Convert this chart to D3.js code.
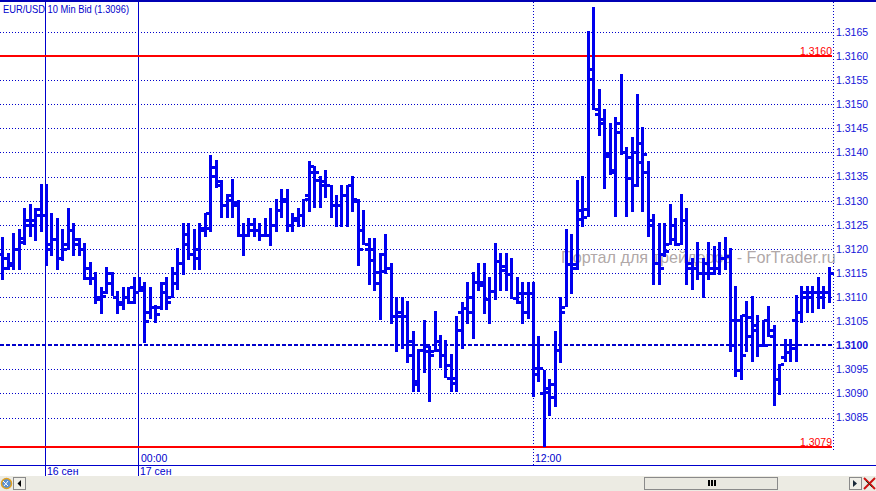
<!DOCTYPE html>
<html><head><meta charset="utf-8">
<script src="https://cdnjs.cloudflare.com/ajax/libs/d3/7.8.5/d3.min.js"></script>
<style>
body{margin:0;background:#fff;overflow:hidden}
svg{display:block}
text{font-family:"Liberation Sans",Arial,sans-serif}
</style>
</head><body>
<svg id="c" width="876" height="491"></svg>
<script>
// ---------- data ----------
const title = "EUR/USD 10 Min Bid (1.3096)";
const watermark = "Портал для трейдеров - ForTrader.ru";
const openP = [1.3119,1.3118,1.3117,1.3120,1.31215,1.3125,1.3125,1.31282,1.3127,1.3121,
1.3122,1.3118,1.3121,1.3124,1.3121,1.3120,1.3116,1.3114,1.3110,1.3111,
1.3113,1.3110,1.3109,1.3110,1.3112,1.3111,1.3112,1.3107,1.3108,1.3108,
1.3111,1.3110,1.3113,1.3117,1.3123,1.3119,1.3118,1.3124,1.31274,1.31352,
1.31333,1.3129,1.31301,1.31298,1.31228,1.31228,1.3124,1.3124,1.31228,1.31228,
1.3125,1.3128,1.3130,1.3125,1.3126,1.3127,1.31312,1.3136,1.31342,1.31333,
1.31333,1.31291,1.31291,1.31312,1.31333,1.31303,1.3124,1.3120,1.31176,1.3113,
1.31153,1.31161,1.3106,1.3106,1.3106,1.3098,1.3092,1.3099,1.30989,1.30989,
1.31009,1.30979,1.30933,1.30933,1.31068,1.31078,1.3110,1.31131,1.31131,1.31095,
1.31112,1.31175,1.31156,1.31147,1.31099,1.31089,1.31068,1.31109,1.30952,1.3090,
1.30903,1.3092,1.3099,1.3108,1.31169,1.3116,1.3128,1.31283,1.31553,1.3148,
1.3147,1.31399,1.3136,1.3146,1.3140,1.31347,1.31401,1.3142,1.3136,1.3125,
1.3117,1.3119,1.3121,1.3122,1.3121,1.3126,1.3116,1.3116,1.3115,1.3117,
1.3116,1.3116,1.3118,1.31185,1.3100,1.31052,1.31062,1.3102,1.31031,1.3100,
1.31052,1.3102,1.30931,1.30975,1.30985,1.31052,1.3107,1.31111,1.31111,1.31111,
1.3110,1.3111];
const highP = [1.31224,1.31192,1.31232,1.31242,1.31284,1.31292,1.31284,1.31334,1.31334,1.31274,
1.31263,1.31242,1.31284,1.31253,1.31223,1.31213,1.31172,1.31152,1.31121,1.31163,
1.31152,1.31112,1.31121,1.31121,1.31142,1.31142,1.31131,1.31121,1.31083,1.31131,
1.31142,1.31163,1.31202,1.31253,1.31253,1.31242,1.31253,1.31274,1.31395,1.31385,
1.31343,1.31313,1.31344,1.31301,1.31253,1.31263,1.31263,1.31253,1.31263,1.31284,
1.31303,1.31324,1.31324,1.31274,1.31284,1.31303,1.31383,1.31372,1.31352,1.31363,
1.31333,1.31312,1.31333,1.31333,1.31352,1.31303,1.3128,1.31223,1.31223,1.31192,
1.31231,1.31171,1.31101,1.31101,1.31092,1.3103,1.30992,1.31052,1.30999,1.31072,
1.31021,1.3101,1.30981,1.31061,1.3109,1.31131,1.31151,1.31171,1.31171,1.31141,
1.31213,1.31192,1.31192,1.31181,1.31141,1.31131,1.31131,1.31131,1.3102,1.30949,
1.30931,1.3103,1.31101,1.31242,1.31231,1.31342,1.31352,1.31652,1.31702,1.31532,
1.31491,1.31462,1.31474,1.31563,1.31411,1.31432,1.31522,1.31453,1.31382,1.31273,
1.31253,1.31253,1.31293,1.31264,1.31314,1.31285,1.31182,1.31214,1.31182,1.31214,
1.31205,1.31214,1.31224,1.31201,1.31122,1.31063,1.31092,1.31103,1.31063,1.31052,
1.31082,1.31042,1.30962,1.31012,1.31012,1.31104,1.31122,1.31122,1.31122,1.31142,
1.31122,1.31163];
const lowP = [1.31135,1.31156,1.31156,1.31156,1.31208,1.31225,1.31216,1.31235,1.31164,1.31185,
1.31156,1.31174,1.31197,1.31185,1.31185,1.31135,1.31124,1.31086,1.31064,1.31107,
1.31103,1.31064,1.31074,1.31086,1.31086,1.3111,1.31005,1.31055,1.31047,1.31074,
1.31074,1.31097,1.31114,1.31145,1.31176,1.31156,1.31156,1.31225,1.31234,1.31326,
1.31265,1.31265,1.31265,1.31225,1.31185,1.31225,1.31225,1.31216,1.31225,1.31206,
1.31234,1.31265,1.31234,1.31234,1.31246,1.31246,1.31276,1.31285,1.31285,1.31306,
1.31265,1.31246,1.31246,1.31246,1.31276,1.31165,1.31207,1.31124,1.31113,1.31053,
1.31148,1.31045,1.30985,1.30993,1.30964,1.30903,1.30903,1.30943,1.30882,1.30985,
1.30953,1.30933,1.30903,1.30903,1.30993,1.31045,1.31014,1.31113,1.31065,1.31045,
1.31094,1.31113,1.31113,1.31096,1.31085,1.31045,1.31054,1.30893,1.30924,1.3079,
1.30853,1.30872,1.30964,1.3108,1.31107,1.31157,1.31245,1.31266,1.31487,1.31435,
1.31325,1.31354,1.31266,1.31394,1.31266,1.31276,1.31328,1.31276,1.31224,1.31124,
1.31125,1.31184,1.31208,1.31205,1.31208,1.31125,1.31115,1.31135,1.31097,1.31135,
1.31146,1.31146,1.31156,1.30986,1.30934,1.30927,1.30986,1.30965,1.30976,1.30997,
1.31017,1.30875,1.30896,1.30965,1.30965,1.30965,1.31047,1.31066,1.31066,1.31076,
1.31076,1.31087];
const closeP = [1.3116,1.31166,1.3120,1.31222,1.3126,1.3126,1.3127,1.3127,1.3120,1.3122,
1.3118,1.3120,1.3124,1.3122,1.3120,1.3114,1.3114,1.31095,1.31103,1.3115,
1.3110,1.31085,1.3110,1.3109,1.3111,1.31115,1.3105,1.3108,1.31065,1.3113,
1.3109,1.3115,1.3117,1.3121,1.3119,1.3120,1.31244,1.31244,1.3137,1.31341,
1.31291,1.31311,1.3129,1.31228,1.31228,1.31252,1.3124,1.31228,1.31228,1.3125,
1.3128,1.31304,1.3125,1.31263,1.3127,1.31303,1.31371,1.3136,1.3134,1.31333,
1.31291,1.31291,1.31312,1.31333,1.3130,1.3120,1.3121,1.3120,1.31152,1.3119,
1.31161,1.3106,1.31068,1.3106,1.31009,1.30926,1.3099,1.30999,1.30979,1.3099,
1.30979,1.30959,1.30922,1.31031,1.31078,1.31068,1.31131,1.31124,1.31095,1.31112,
1.31175,1.31165,1.31147,1.31099,1.31109,1.31109,1.31109,1.3094,1.30952,1.30912,
1.30892,1.3099,1.3107,1.31169,1.31169,1.31262,1.31266,1.31574,1.31491,1.3146,
1.31393,1.31363,1.31442,1.3140,1.3139,1.31332,1.3138,1.31396,1.3126,1.3117,
1.3116,1.31195,1.3125,1.3121,1.3126,1.3117,1.3116,1.3115,1.3115,1.3115,
1.3116,1.3118,1.31185,1.31052,1.30949,1.3098,1.31058,1.31042,1.3100,1.3100,
1.31031,1.30931,1.30962,1.30985,1.30995,1.3107,1.31101,1.31101,1.3111,1.3111,
1.3111,1.31149];
const priceTicks = [1.3085,1.3090,1.3095,1.3100,1.3105,1.3110,1.3115,1.3120,1.3125,1.3130,1.3135,1.3140,1.3145,1.3150,1.3155,1.3160,1.3165];
const highLine = 1.3160, lowLine = 1.3079, refLine = 1.3100;
const timeMarks = [{i:25,label:"00:00"},{i:97,label:"12:00"}];
const dayMarks = [{i:8,label:"16 сен"},{i:25,label:"17 сен"}];

// ---------- chart ----------
const svg = d3.select("#c");
const W = 876, H = 491, axisX = 833;
const x = d3.scaleLinear().domain([25, 97]).range([139, 533]);
const y = d3.scaleLinear().domain([lowLine, highLine]).range([446.5, 56]);
const BLUE = "#0000cc", BAR = "#0000ee";
const fmt = d3.format(".4f");

svg.append("rect").attr("width", W).attr("height", H).attr("fill", "#fff");

// grid
const grid = svg.append("g");
priceTicks.filter(v => Math.abs(v - refLine) > 1e-7 && Math.abs(v - highLine) > 1e-7).forEach(v => {
  const yy = Math.round(y(v)) + 0.5;
  grid.append("line").attr("x1", 0).attr("x2", axisX).attr("y1", yy).attr("y2", yy)
    .attr("stroke", BLUE).attr("stroke-width", 1).attr("stroke-dasharray", "1,2");
});
{
  const yy = Math.round(y(refLine));
  grid.append("line").attr("x1", 0).attr("x2", axisX).attr("y1", yy).attr("y2", yy)
    .attr("stroke", BLUE).attr("stroke-width", 2).attr("stroke-dasharray", "4,2");
}
// vertical marks
dayMarks.forEach(d => {
  const xx = Math.round(x(d.i)) - 0.5;
  grid.append("line").attr("x1", xx).attr("x2", xx).attr("y1", 2).attr("y2", 476)
    .attr("stroke", BLUE).attr("stroke-width", 1);
});
timeMarks.filter(t => !dayMarks.some(d => d.i === t.i)).forEach(t => {
  const xx = Math.round(x(t.i)) + 0.5;
  grid.append("line").attr("x1", xx).attr("x2", xx).attr("y1", 2).attr("y2", 465)
    .attr("stroke", BLUE).attr("stroke-width", 1).attr("stroke-dasharray", "1,2");
});
// right axis dotted line
svg.append("line").attr("x1", axisX + 0.5).attr("x2", axisX + 0.5).attr("y1", 2).attr("y2", 452)
  .attr("stroke", BLUE).attr("stroke-dasharray", "1,2");

// watermark
svg.append("text").attr("x", 561).attr("y", 262.5).attr("font-size", 16.2)
  .attr("fill", "#a69c9c").attr("fill-opacity", 0.9).text(watermark);

// red high/low lines
[highLine, lowLine].forEach(v => {
  const yy = Math.round(y(v));
  svg.append("line").attr("x1", 0).attr("x2", axisX - 1).attr("y1", yy).attr("y2", yy)
    .attr("stroke", "#ff0000").attr("stroke-width", 2);
  svg.append("text").attr("x", axisX - 1).attr("y", yy - 1.5).attr("text-anchor", "end")
    .attr("font-size", 10.5).attr("fill", "#ff0000").text(fmt(v));
});

// OHLC bars
const bars = svg.append("g").attr("fill", BAR);
openP.forEach((o, i) => {
  const xc = Math.round(x(i));
  const yh = Math.round(y(highP[i])), yl = Math.round(y(lowP[i]));
  const yo = Math.round(y(o)), yc = Math.round(y(closeP[i]));
  bars.append("rect").attr("x", xc - 1).attr("y", yh).attr("width", 3).attr("height", Math.max(2, yl - yh));
  bars.append("rect").attr("x", xc - 4).attr("y", yo - 1).attr("width", 3).attr("height", 3);
  bars.append("rect").attr("x", xc + 2).attr("y", yc - 1).attr("width", 3).attr("height", 3);
});

// price axis
const axis = svg.append("g").attr("transform", `translate(${axisX},0)`)
  .call(d3.axisRight(y).tickValues(priceTicks).tickFormat(fmt).tickSize(0).tickPadding(3));
axis.select(".domain").remove();
axis.selectAll("text").attr("font-size", 10.5).attr("fill", "#1414d8")
  .attr("font-family", '"Liberation Sans",Arial,sans-serif')
  .attr("font-weight", d => Math.abs(d - refLine) < 1e-7 ? "bold" : "normal");

// top border
svg.append("rect").attr("x", 0).attr("y", 0).attr("width", W).attr("height", 2).attr("fill", "#0000b4");

// time label row
svg.append("rect").attr("x", 0).attr("y", 447.5).attr("width", 0).attr("height", 0);
timeMarks.forEach(t => {
  svg.append("text").attr("x", Math.round(x(t.i)) + 2).attr("y", 462).attr("font-size", 10.5)
    .attr("fill", BLUE).text(t.label);
});
svg.append("line").attr("x1", 0).attr("x2", W).attr("y1", 465.5).attr("y2", 465.5)
  .attr("stroke", BLUE).attr("stroke-width", 1);
dayMarks.forEach(d => {
  svg.append("text").attr("x", Math.round(x(d.i)) + 1).attr("y", 475).attr("font-size", 10.5)
    .attr("fill", BLUE).text(d.label);
});

// title
svg.append("text").attr("x", 3).attr("y", 12.5).attr("font-size", 11).attr("fill", BLUE)
  .attr("textLength", 126).attr("lengthAdjust", "spacingAndGlyphs").text(title);

// bottom scroll bar
const sb = svg.append("g");
sb.append("rect").attr("x", 0).attr("y", 476).attr("width", W).attr("height", 15).attr("fill", "#ecebe3");
// left icon
sb.append("circle").attr("cx", 6.5).attr("cy", 483.5).attr("r", 5).attr("fill", "#5a8fd0").attr("stroke", "#e0a020").attr("stroke-width", 1.5);
sb.append("path").attr("d", "M3,481 L8,486 M8,481 L4,486").attr("stroke", "#fff").attr("stroke-width", 1);
// left button
sb.append("rect").attr("x", 13.5).attr("y", 477.5).attr("width", 12).attr("height", 12).attr("fill", "#f0efe8").attr("stroke", "#8a8a8a");
sb.append("path").attr("d", "M17.5,483.5 L21,480 L21,487 Z").attr("fill", "#000");
// thumb
sb.append("rect").attr("x", 644.5).attr("y", 477.5).attr("width", 133).attr("height", 12).attr("fill", "#e9e8e0").attr("stroke", "#8a8a8a");
[708, 711, 714].forEach(gx => sb.append("rect").attr("x", gx).attr("y", 480).attr("width", 2).attr("height", 6).attr("fill", "#000"));
// right button
sb.append("rect").attr("x", 849.5).attr("y", 477.5).attr("width", 12).attr("height", 12).attr("fill", "#f0efe8").attr("stroke", "#8a8a8a");
sb.append("path").attr("d", "M853,480 L857,483.5 L853,487 Z").attr("fill", "#1a2a3a");
// close cross
sb.append("path").attr("d", "M864,478 L875,489 M875,478 L864,489").attr("stroke", "#cc1111").attr("stroke-width", 2);
sb.append("path").attr("d", "M866,481 L872,487").attr("stroke", "#204020").attr("stroke-width", 1);
</script>
</body></html>
